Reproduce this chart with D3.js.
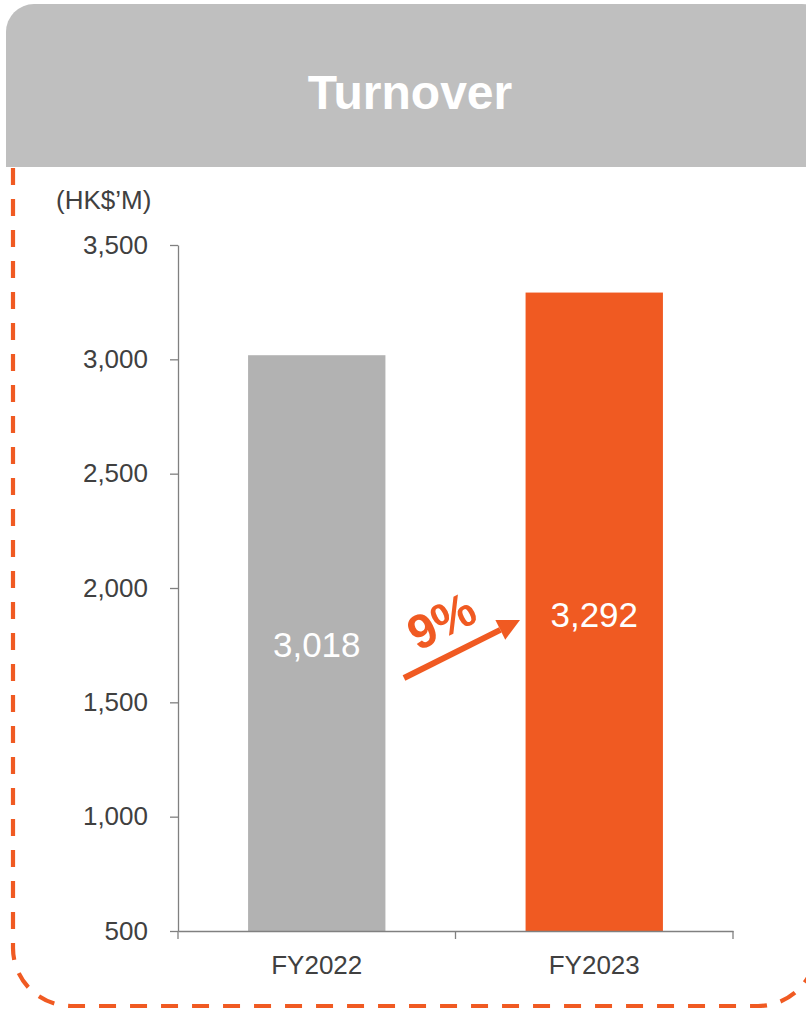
<!DOCTYPE html>
<html><head><meta charset="utf-8">
<script src="https://cdn.jsdelivr.net/npm/d3@7"></script>
<style>body{margin:0;background:#fff;}svg{display:block;}</style>
</head><body>
<script>
const categories = ["FY2022", "FY2023"];
const values = [3018, 3292];
const valueLabels = ["3,018", "3,292"];
const barColors = ["#b2b2b2", "#f05a22"];
const yTicks = [500, 1000, 1500, 2000, 2500, 3000, 3500];
const title = "Turnover";
const unitLabel = "(HK$’M)";
const growthLabel = "9%";

const W = 806, H = 1011;
const svg = d3.select("body").append("svg").attr("width", W).attr("height", H);
const font = "'Liberation Sans', Arial, sans-serif";

// dashed border
const bx0 = 13, bx1 = 816, by0 = 168, by1 = 1006, r = 58;
svg.append("path")
  .attr("d", `M${bx0},${by0} L${bx0},${by1 - r} A${r},${r} 0 0 0 ${bx0 + r},${by1} L${bx1 - r},${by1} A${r},${r} 0 0 0 ${bx1},${by1 - r} L${bx1},${by0}`)
  .attr("fill", "none").attr("stroke", "#f05a22").attr("stroke-width", 4.2)
  .attr("stroke-dasharray", "17,14").attr("stroke-dashoffset", 0);

// header
const hx = 6, hy = 4, hr = 28, hb = 167, hrgt = 830;
svg.append("path")
  .attr("d", `M${hx},${hb} L${hx},${hy + hr} A${hr},${hr} 0 0 1 ${hx + hr},${hy} L${hrgt - hr},${hy} A${hr},${hr} 0 0 1 ${hrgt},${hy + hr} L${hrgt},${hb} Z`)
  .attr("fill", "#bfbfbf");
svg.append("text").attr("x", 410).attr("y", 109).attr("text-anchor", "middle")
  .attr("font-family", font).attr("font-weight", "bold").attr("font-size", 48)
  .attr("fill", "#ffffff").text(title);

const x = d3.scaleBand().domain(categories).range([178, 733]).paddingInner(0.505).paddingOuter(0.2525);
const y = d3.scaleLinear().domain([500, 3500]).range([931, 245]);

// bars
svg.selectAll("rect.bar").data(categories).enter().append("rect")
  .attr("x", d => x(d)).attr("width", x.bandwidth())
  .attr("y", (d, i) => y(values[i])).attr("height", (d, i) => y(500) - y(values[i]))
  .attr("fill", (d, i) => barColors[i]);

// axes
const yAxis = svg.append("g").attr("transform", "translate(178,0)")
  .call(d3.axisLeft(y).tickValues(yTicks).tickSize(8).tickSizeOuter(0).tickPadding(22).tickFormat(d3.format(",")));
const xAxis = svg.append("g").attr("transform", "translate(0,931)")
  .call(d3.axisBottom(x).tickSize(0).tickSizeOuter(0).tickPadding(25));
[yAxis, xAxis].forEach(g => {
  g.selectAll("path,line").attr("stroke", "#808080").attr("stroke-width", 1.3);
  g.selectAll("text").attr("font-family", font).attr("font-size", 26).attr("fill", "#404040");
});
// x-axis boundary ticks
const xTickPos = [178, (x.range()[0] + x.range()[1]) / 2, 733];
svg.selectAll("line.xt").data(xTickPos).enter().append("line")
  .attr("x1", d => d).attr("x2", d => d).attr("y1", 931).attr("y2", 939)
  .attr("stroke", "#808080").attr("stroke-width", 1.3);

svg.append("text").attr("x", 56).attr("y", 209).attr("font-family", font)
  .attr("font-size", 26).attr("fill", "#404040").text(unitLabel);

// value labels
svg.selectAll("text.val").data(categories).enter().append("text")
  .attr("x", d => x(d) + x.bandwidth() / 2)
  .attr("y", (d, i) => [657, 627][i])
  .attr("text-anchor", "middle").attr("font-family", font).attr("font-size", 35)
  .attr("fill", "#ffffff").text((d, i) => valueLabels[i]);

// growth arrow
const ax0 = 404, ay0 = 678, ax1 = 520, ay1 = 620;
const ang = Math.atan2(ay1 - ay0, ax1 - ax0);
const headLen = 22, headW = 11;
const hbx = ax1 - headLen * Math.cos(ang), hby = ay1 - headLen * Math.sin(ang);
svg.append("line").attr("x1", ax0).attr("y1", ay0).attr("x2", hbx).attr("y2", hby)
  .attr("stroke", "#f05a22").attr("stroke-width", 6);
svg.append("path").attr("d",
  `M${ax1},${ay1} L${hbx + headW * Math.sin(ang)},${hby - headW * Math.cos(ang)} L${hbx - headW * Math.sin(ang)},${hby + headW * Math.cos(ang)} Z`)
  .attr("fill", "#f05a22");
svg.append("text").attr("transform", `translate(449,636) rotate(${ang * 180 / Math.PI})`)
  .attr("text-anchor", "middle").attr("font-family", font).attr("font-weight", "bold")
  .attr("font-size", 48).attr("fill", "#f05a22").text(growthLabel);
</script>
</body></html>
